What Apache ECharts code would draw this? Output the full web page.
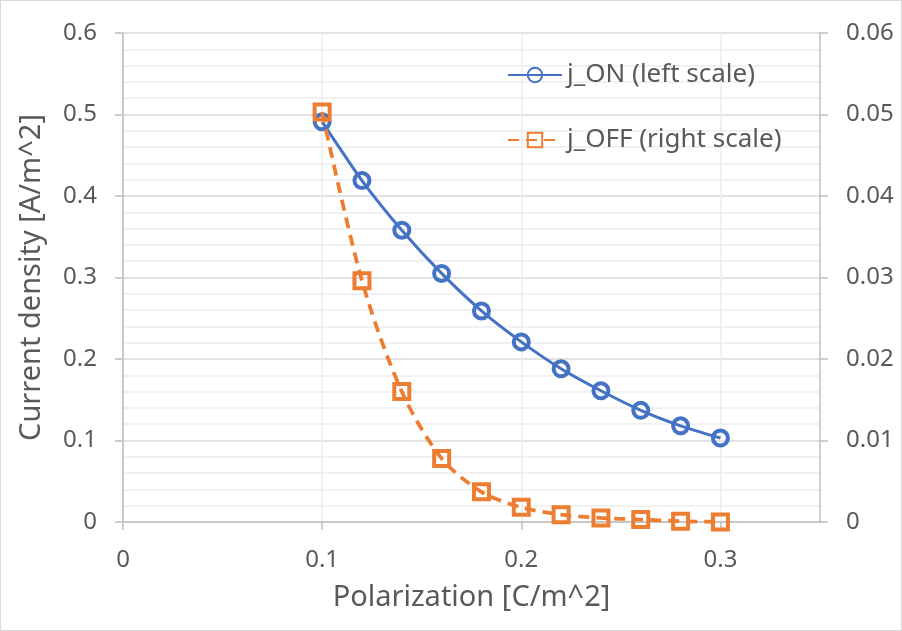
<!DOCTYPE html>
<html>
<head>
<meta charset="utf-8">
<script src="https://cdn.jsdelivr.net/npm/echarts@6/dist/echarts.min.js"></script>
<style>
  html, body { margin: 0; padding: 0; background: #fff; }
  #chart { width: 900px; height: 629px; border: 1px solid #d9d9d9; }
</style>
</head>
<body>
<div id="chart"></div>
<script>
// polarization values (x) and the two current density series
const polarization = [0.10, 0.12, 0.14, 0.16, 0.18, 0.20, 0.22, 0.24, 0.26, 0.28, 0.30];
const jOn = [0.491, 0.419, 0.358, 0.305, 0.259, 0.221, 0.188, 0.161, 0.137, 0.118, 0.103];
const jOff = [0.0503, 0.0296, 0.0160, 0.0078, 0.0037, 0.0018, 0.0009, 0.0005, 0.0003, 0.0001, 0.0000];
const xMajorTicks = [0, 0.1, 0.2, 0.3];

const FONT = 'Noto Sans';
const TEXT = '#595959';

const chart = echarts.init(document.getElementById('chart'));

const option = {
    backgroundColor: '#fff',
    animation: false,
    textStyle: { fontFamily: FONT },
    grid: { left: 122, right: 81, top: 32, bottom: 108, containLabel: false },
    legend: {
        orient: 'vertical',
        left: 501,
        top: 56,
        itemGap: 39,
        itemWidth: 54,
        itemHeight: 18,
        textStyle: { fontFamily: FONT, fontSize: 26, color: TEXT, padding: [0, 0, 0, 0] },
        data: ['j_ON (left scale)', 'j_OFF (right scale)']
    },
    xAxis: {
        type: 'value',
        min: 0,
        max: 0.35,
        interval: 0.02,
        name: 'Polarization [C/m^2]',
        nameLocation: 'middle',
        nameGap: 61,
        nameTextStyle: { fontFamily: FONT, fontSize: 29, color: TEXT },
        axisLine: { show: true, lineStyle: { color: '#bfbfbf', width: 1.5 } },
        axisTick: { show: true, length: 8, customValues: xMajorTicks, lineStyle: { color: '#bfbfbf', width: 1.5 } },
        axisLabel: {
            customValues: xMajorTicks,
            margin: 26,
            fontFamily: FONT, fontSize: 24, color: TEXT,
            formatter: v => String(Math.round(v * 10) / 10)
        },
        splitLine: {
            show: true,
            lineStyle: { color: ['#d9d9d9', '#ededed', '#ededed', '#ededed', '#ededed'], width: 1.5 }
        }
    },
    yAxis: [{
        type: 'value',
        min: 0,
        max: 0.6,
        interval: 0.1,
        name: 'Current density [A/m^2]',
        nameLocation: 'middle',
        nameGap: 77,
        nameTextStyle: { fontFamily: FONT, fontSize: 29, color: TEXT },
        axisLine: { show: true, lineStyle: { color: '#bfbfbf', width: 1.5 } },
        axisTick: { show: true, length: 8, lineStyle: { color: '#bfbfbf', width: 1.5 } },
        axisLabel: { margin: 26, fontFamily: FONT, fontSize: 24, color: TEXT },
        splitLine: { show: true, lineStyle: { color: '#d9d9d9', width: 1.5 } },
        minorTick: { show: false, splitNumber: 5 },
        minorSplitLine: { show: true, lineStyle: { color: '#ededed', width: 1.5 } }
    }, {
        type: 'value',
        min: 0,
        max: 0.06,
        interval: 0.01,
        position: 'right',
        axisLine: { show: true, lineStyle: { color: '#bfbfbf', width: 1.5 } },
        axisTick: { show: true, length: 8, lineStyle: { color: '#bfbfbf', width: 1.5 } },
        axisLabel: { margin: 26, fontFamily: FONT, fontSize: 24, color: TEXT },
        splitLine: { show: false }
    }],
    series: [{
        name: 'j_ON (left scale)',
        type: 'line',
        yAxisIndex: 0,
        smooth: 0.2,
        data: polarization.map((x, i) => [x, jOn[i]]),
        symbol: 'circle',
        symbolSize: 15,
        lineStyle: { color: '#4472C4', width: 3 },
        itemStyle: { color: 'rgba(255,255,255,0)', borderColor: '#4472C4', borderWidth: 4 },
        z: 3
    }, {
        name: 'j_OFF (right scale)',
        type: 'line',
        yAxisIndex: 1,
        smooth: 0.3,
        data: polarization.map((x, i) => [x, jOff[i]]),
        symbol: 'rect',
        symbolSize: 15,
        lineStyle: { color: '#ED7D31', width: 3.75, type: [11, 7] },
        itemStyle: { color: 'rgba(255,255,255,0)', borderColor: '#ED7D31', borderWidth: 4 },
        z: 4
    }]
};

chart.setOption(option);

window.addEventListener('resize', () => {
    chart.resize();
});
</script>
</body>
</html>
